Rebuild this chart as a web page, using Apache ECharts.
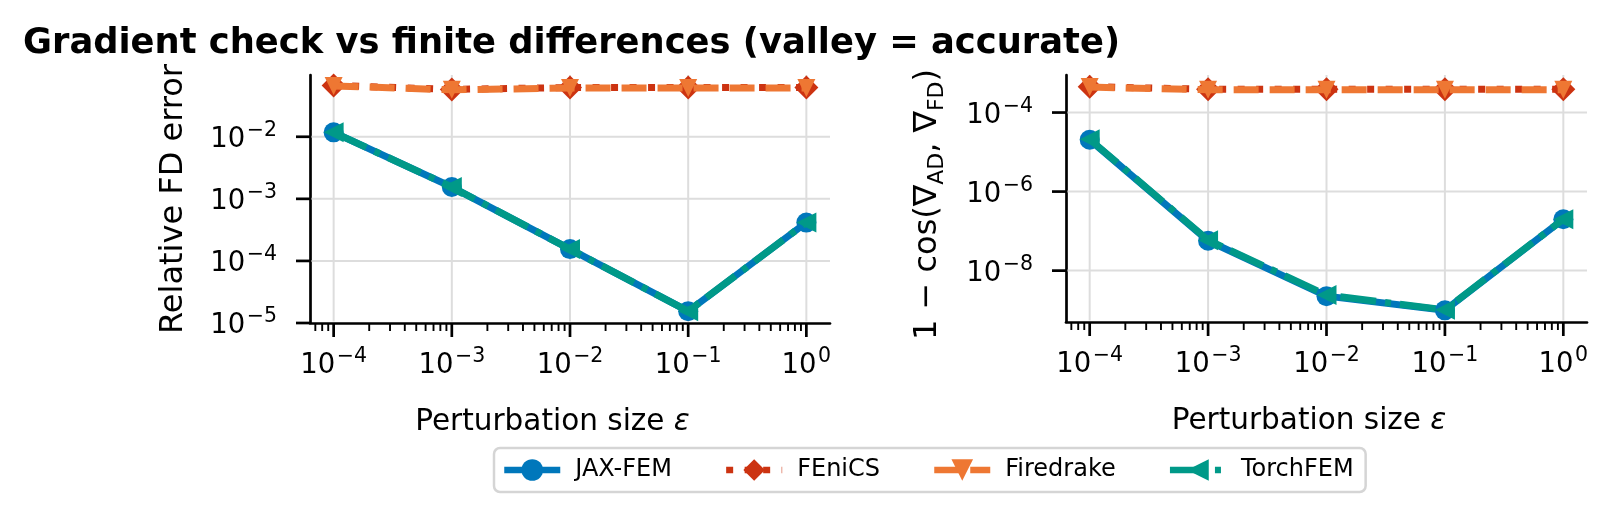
<!DOCTYPE html>
<html><head><meta charset="utf-8">
<script src="https://cdn.jsdelivr.net/npm/echarts@6/dist/echarts.min.js"></script>
<style>html,body{margin:0;padding:0;background:#fff}#c{width:1615px;height:518px}</style>
</head><body><div id="c"></div>
<script>
// ---- data ----
const eps = [1e-4, 1e-3, 1e-2, 1e-1, 1];
const relErrJaxFem    = [0.0118, 1.55e-3, 1.55e-4, 1.55e-5, 4.15e-4];
const relErrFenics    = [0.067, 0.058, 0.062, 0.062, 0.062];
const relErrFiredrake = [0.066, 0.057, 0.061, 0.061, 0.061];
const relErrTorchFem  = [0.0118, 1.55e-3, 1.55e-4, 1.55e-5, 4.15e-4];
const cosJaxFem    = [2.05e-5, 5.7e-8, 2.26e-9, 9.9e-10, 2.0e-7];
const cosFenics    = [4.5e-4, 3.9e-4, 3.9e-4, 3.9e-4, 3.9e-4];
const cosFiredrake = [4.4e-4, 3.8e-4, 3.8e-4, 3.8e-4, 3.8e-4];
const cosTorchFem  = [2.1e-5, 5.9e-8, 2.4e-9, 1.02e-9, 2.0e-7];
const seriesNames = ['JAX-FEM', 'FEniCS', 'Firedrake', 'TorchFEM'];
const xMajorTicks = [1e-4, 1e-3, 1e-2, 1e-1, 1];
const xMinorTicks = [7e-5, 8e-5, 9e-5,
  2e-4, 3e-4, 4e-4, 5e-4, 6e-4, 7e-4, 8e-4, 9e-4,
  2e-3, 3e-3, 4e-3, 5e-3, 6e-3, 7e-3, 8e-3, 9e-3,
  2e-2, 3e-2, 4e-2, 5e-2, 6e-2, 7e-2, 8e-2, 9e-2,
  0.2, 0.3, 0.4, 0.5, 0.6, 0.7, 0.8, 0.9];
const leftYTicks = [1e-5, 1e-4, 1e-3, 1e-2];
const rightYTicks = [1e-8, 1e-6, 1e-4];
const xRange = [Math.pow(10, -4.2), Math.pow(10, 0.2)];
const leftYRange = [1e-5, Math.pow(10, -1.005)];
const rightYRange = [Math.pow(10, -9.3), Math.pow(10, -3.05)];
const titleText = 'Gradient check vs finite differences (valley = accurate)';

// ---- styles ----
const FONT = 'DejaVu Sans';
const styles = {
  'JAX-FEM':   {color: '#0077BB', symbol: 'circle',   size: 20, rotate: 0,   type: 'solid',        width: 7},
  'FEniCS':    {color: '#CC3311', symbol: 'diamond',  size: 24, rotate: 0,   type: [7, 11.5],      width: 7},
  'Firedrake': {color: '#EE7733', symbol: 'triangle', size: 18, rotate: 180, type: [25, 11],       width: 7},
  'TorchFEM':  {color: '#009988', symbol: 'triangle', size: 20, rotate: 90,  type: [36, 9, 6, 9],  width: 7}
};

function mk(name, vals, gi, z) {
  const s = styles[name];
  return {
    type: 'line', name, xAxisIndex: gi, yAxisIndex: gi, z,
    data: eps.map((x, i) => [x, vals[i]]),
    symbol: s.symbol, symbolSize: s.size, symbolRotate: s.rotate, showAllSymbol: true,
    lineStyle: {color: s.color, width: s.width, type: s.type, cap: 'butt'},
    itemStyle: {color: s.color, borderWidth: 0},
    emphasis: {disabled: true}, animation: false, clip: false, silent: true
  };
}

// ticks + grid lines, positioned through the axes
function renderTick(params, api) {
  const t = api.value(2);
  const p = api.coord([api.value(0), api.value(1)]);
  const cs = params.coordSys;
  const kids = [];
  const grid = {stroke: '#dddddd', lineWidth: 2};
  if (t === 2) {
    if (p[1] < cs.y + cs.height - 1.5 && p[1] > cs.y + 1.5) {
      kids.push({type: 'line', shape: {x1: cs.x + 1.5, y1: p[1], x2: cs.x + cs.width, y2: p[1]}, style: grid});
    }
    kids.push({type: 'line', shape: {x1: p[0] - 14, y1: p[1], x2: p[0], y2: p[1]}, style: {stroke: '#000', lineWidth: 2.7}});
  } else if (t === 1) {
    if (p[0] > cs.x + 1.5 && p[0] < cs.x + cs.width - 1.5) {
      kids.push({type: 'line', shape: {x1: p[0], y1: cs.y, x2: p[0], y2: cs.y + cs.height - 1.5}, style: grid});
    }
    kids.push({type: 'line', shape: {x1: p[0], y1: p[1], x2: p[0], y2: p[1] + 14}, style: {stroke: '#000', lineWidth: 2.7}});
  } else {
    kids.push({type: 'line', shape: {x1: p[0], y1: p[1], x2: p[0], y2: p[1] + 8}, style: {stroke: '#000', lineWidth: 1.9}});
  }
  return {type: 'group', children: kids};
}

function tickSeries(gi, xr, yr, yTicks) {
  const data = [];
  xMajorTicks.forEach(v => data.push([v, yr[0], 1]));
  xMinorTicks.forEach(v => data.push([v, yr[0], 0]));
  yTicks.forEach(v => data.push([xr[0], v, 2]));
  return {
    type: 'custom', name: '_ticks' + gi, xAxisIndex: gi, yAxisIndex: gi, data, z: 1,
    silent: true, clip: false, renderItem: renderTick, animation: false
  };
}

function powFmt(v) {
  const e = Math.log10(v);
  const r = Math.round(e);
  if (Math.abs(e - r) > 1e-6) return '';
  return '{b|10}{s|' + (r < 0 ? '\u2212' + (-r) : String(r)) + '}';
}
const tickRich = {
  b: {fontFamily: FONT, fontSize: 27.5, color: '#000', lineHeight: 30, padding: [6, 0, 0, 0]},
  s: {fontFamily: FONT, fontSize: 20.5, color: '#000', lineHeight: 30, padding: [0, 0, 12, 1.5]}
};
const nameRich = {
  n: {fontFamily: FONT, fontSize: 32, color: '#000'},
  x: {fontFamily: FONT, fontSize: 29.5, color: '#000'},
  e: {fontFamily: FONT, fontSize: 29.5, color: '#000', fontStyle: 'italic'},
  d: {fontFamily: FONT, fontSize: 22, color: '#000', padding: [18, 0, 0, 0]}
};

const grids = [
  {left: 310, top: 75, width: 520, height: 248},
  {left: 1066, top: 75, width: 521, height: 247}
];

const xAxes = [0, 1].map(gi => ({
  type: 'log', logBase: 10, gridIndex: gi, min: xRange[0], max: xRange[1],
  axisLine: {show: true, onZero: false, lineStyle: {color: '#000', width: 2.7}},
  axisTick: {show: false}, splitLine: {show: false}, minorTick: {show: false},
  axisLabel: {margin: 25, formatter: powFmt, rich: tickRich, color: '#000'},
  name: '{x|Perturbation size }{e|\u03b5}', nameLocation: 'middle', nameGap: 84,
  nameTextStyle: {fontFamily: FONT, fontSize: 29.5, color: '#000', rich: nameRich, padding: [0, 35, 0, 0]}
}));

const yAxes = [
  {
    type: 'log', logBase: 10, gridIndex: 0, min: leftYRange[0], max: leftYRange[1],
    axisLine: {show: true, onZero: false, lineStyle: {color: '#000', width: 2.7}},
    axisTick: {show: false}, splitLine: {show: false}, minorTick: {show: false},
    axisLabel: {margin: 33, formatter: powFmt, rich: tickRich, color: '#000'},
    name: 'Relative FD error', nameLocation: 'middle', nameGap: 120, nameRotate: 90,
    nameTextStyle: {fontFamily: FONT, fontSize: 32, color: '#000'}
  },
  {
    type: 'log', logBase: 100, gridIndex: 1, min: rightYRange[0], max: rightYRange[1],
    axisLine: {show: true, onZero: false, lineStyle: {color: '#000', width: 2.7}},
    axisTick: {show: false}, splitLine: {show: false}, minorTick: {show: false},
    axisLabel: {margin: 33, formatter: powFmt, rich: tickRich, color: '#000'},
    name: '{n|1 \u2212 cos(\u2207}{d|AD}{n|, \u2207}{d|FD}{n|)}', nameLocation: 'middle', nameGap: 118, nameRotate: 90,
    nameTextStyle: {fontFamily: FONT, fontSize: 32, color: '#000', rich: nameRich, padding: [0, 12, 0, 0]}
  }
];

const series = [
  tickSeries(0, xRange, leftYRange, leftYTicks),
  tickSeries(1, xRange, rightYRange, rightYTicks),
  mk('JAX-FEM', relErrJaxFem, 0, 3),
  mk('FEniCS', relErrFenics, 0, 4),
  mk('Firedrake', relErrFiredrake, 0, 5),
  mk('TorchFEM', relErrTorchFem, 0, 6),
  mk('JAX-FEM', cosJaxFem, 1, 3),
  mk('FEniCS', cosFenics, 1, 4),
  mk('Firedrake', cosFiredrake, 1, 5),
  mk('TorchFEM', cosTorchFem, 1, 6)
];

const chart = echarts.init(document.getElementById('c'), null, {renderer: 'canvas'});
chart.setOption({
  animation: false,
  backgroundColor: '#fff',
  title: {
    text: titleText, left: 23, top: 26, padding: 0,
    textStyle: {fontFamily: FONT, fontWeight: 'bold', fontSize: 35.3, color: '#000'}
  },
  legend: {
    data: seriesNames, left: 494, top: 448, orient: 'horizontal',
    padding: [10, 12, 10, 7], itemWidth: 56, itemHeight: 27, itemGap: 51,
    borderColor: '#d5d5d5', borderWidth: 2.5, borderRadius: 6, backgroundColor: '#fff',
    selectedMode: false,
    lineStyle: {width: 6.5},
    textStyle: {fontFamily: FONT, fontSize: 24, color: '#000', padding: [0, 0, 0, 10]}
  },
  grid: grids,
  xAxis: xAxes,
  yAxis: yAxes,
  series
});
</script></body></html>
